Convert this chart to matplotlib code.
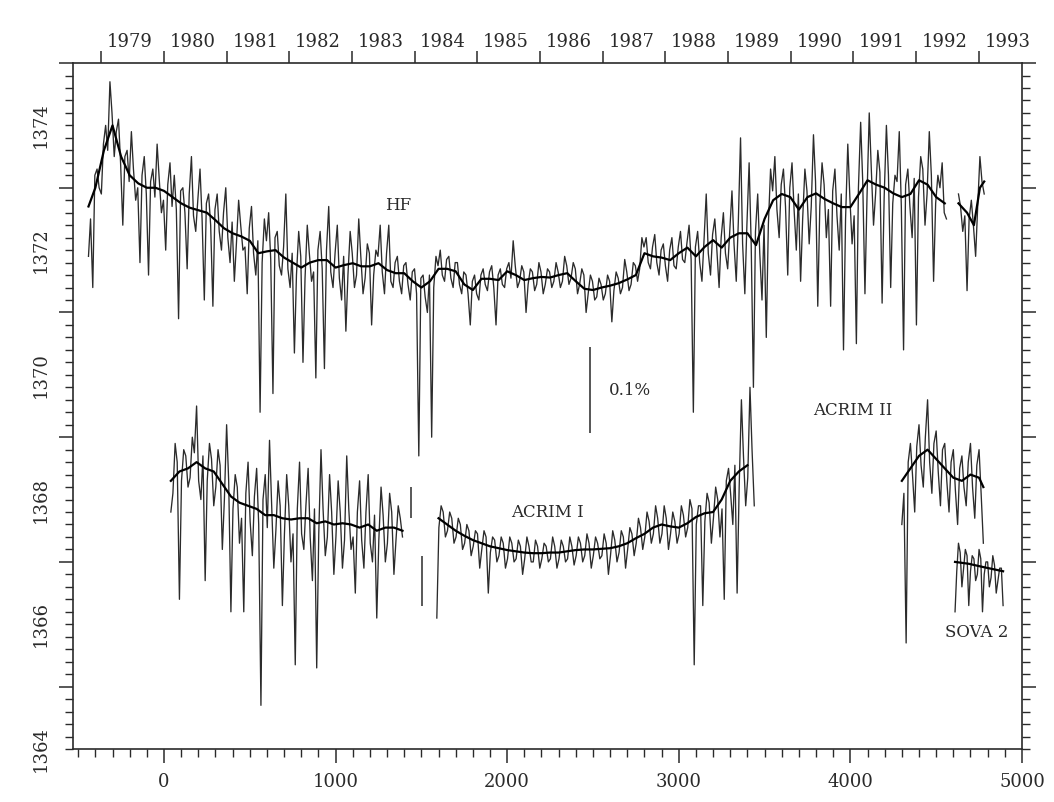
import numpy as np
import matplotlib
matplotlib.use("Agg")
import matplotlib.pyplot as plt
from matplotlib.ticker import MultipleLocator, FixedLocator

plt.rcParams["font.family"] = ["DejaVu Serif"]

INK = "#2a2a2a"


def days(start, step, n):
    # sampling grid of the typed series (day 0 = 1 Jan 1980)
    return start + step * np.arange(n)


def merged(d1, v1, d2, v2):
    d = np.r_[d1, d2]
    v = np.r_[v1, v2]
    order = np.argsort(d, kind="stable")
    return d[order], v[order]


# --- Nimbus-7 HF: spiky samples every 25 days from day -440
hf_vals = [
    1371.9, 1371.4, 1373.3, 1372.9, 1374.0, 1374.7, 1373.5, 1374.1, 1372.4, 1373.6,
    1373.9, 1372.8, 1371.8, 1373.5, 1371.6, 1373.3, 1373.7, 1372.6, 1372.0, 1373.4,
    1373.2, 1370.9, 1373.0, 1371.7, 1373.5, 1372.3, 1373.3, 1371.2, 1372.9, 1371.1,
    1372.9, 1372.0, 1373.0, 1371.8, 1371.5, 1372.8, 1372.0, 1371.3, 1372.7, 1371.6,
    1369.4, 1372.5, 1372.6, 1369.7, 1372.3, 1371.6, 1372.9, 1371.4, 1370.35, 1372.3,
    1370.2, 1372.4, 1371.5, 1369.95, 1372.3, 1370.1, 1372.7, 1371.4, 1372.4, 1371.2,
    1370.7, 1372.3, 1371.4, 1372.5, 1371.3, 1372.1, 1370.8, 1372.0, 1372.4, 1371.3,
    1372.4, 1371.4, 1371.9, 1371.3, 1371.8, 1371.2, 1371.7, 1368.7, 1371.6, 1371.0,
    1369.0, 1371.9, 1372.0, 1371.5, 1371.9, 1371.4, 1371.8, 1371.3, 1371.6, 1370.8,
    1371.6, 1371.2, 1371.7, 1371.35, 1371.75, 1370.8, 1371.7, 1371.4, 1371.8, 1372.15,
    1371.4, 1371.75, 1371.0, 1371.7, 1371.35, 1371.8, 1371.3, 1371.7, 1371.4, 1371.8,
    1371.4, 1371.9, 1371.45, 1371.8, 1371.3, 1371.7, 1371.0, 1371.6, 1371.2, 1371.55,
    1371.2, 1371.6, 1370.85, 1371.65, 1371.3, 1371.85, 1371.35, 1371.8, 1371.5, 1372.2,
    1372.2, 1371.7, 1372.25, 1371.6, 1372.1, 1371.5, 1372.2, 1371.7, 1372.3, 1371.8,
    1372.4, 1369.4, 1372.3, 1371.5, 1372.9, 1371.6, 1372.5, 1371.4, 1372.6, 1371.7,
    1372.95, 1371.5, 1373.8, 1371.3, 1373.4, 1369.8, 1372.9, 1371.2, 1370.6, 1373.3,
    1373.5, 1372.2, 1373.3, 1371.6, 1373.4, 1372.0, 1371.5, 1373.3, 1372.1, 1373.85,
    1371.1, 1373.4, 1372.2, 1371.1, 1373.3, 1372.0, 1370.4, 1373.7, 1372.1, 1370.5,
    1374.05, 1371.3, 1374.2, 1372.4, 1373.6, 1371.15, 1374.0, 1371.4, 1373.2, 1373.9,
    1370.4, 1373.3, 1372.2, 1370.8, 1373.5, 1372.4, 1373.9, 1371.5, 1373.2, 1373.4,
    1372.5,
]
# quieter HF days in between, every 25 days from day -428
hf_fill_vals = [
    1372.5, 1373.2, 1373.0, 1373.7, 1373.6, 1374.2, 1373.9, 1373.4, 1373.5, 1373.1,
    1373.3, 1373.0, 1373.2, 1372.9, 1373.1, 1372.85, 1373.15, 1372.8, 1373.05, 1372.7,
    1372.65, 1372.95, 1372.6, 1372.9, 1372.55, 1372.8, 1372.5, 1372.75, 1372.4, 1372.65,
    1372.3, 1372.6, 1372.2, 1372.45, 1372.1, 1372.4, 1372.05, 1372.35, 1371.95, 1372.15,
    1371.8, 1372.15, 1371.85, 1372.2, 1371.75, 1372.05, 1371.7, 1371.95, 1371.6, 1371.9,
    1371.55, 1371.95, 1371.65, 1372.0, 1371.7, 1372.0, 1371.65, 1371.95, 1371.55, 1371.9,
    1371.6, 1371.95, 1371.6, 1371.9, 1371.55, 1371.95, 1371.6, 1371.9, 1371.65, 1371.95,
    1371.5, 1371.8, 1371.5, 1371.75, 1371.45, 1371.65, 1371.3, 1371.55, 1371.25, 1371.6,
    1371.4, 1371.75, 1371.6, 1371.85, 1371.55, 1371.8, 1371.45, 1371.65, 1371.3, 1371.5,
    1371.3, 1371.6, 1371.45, 1371.65, 1371.4, 1371.6, 1371.45, 1371.7, 1371.55, 1371.75,
    1371.5, 1371.65, 1371.45, 1371.65, 1371.45, 1371.65, 1371.45, 1371.65, 1371.5, 1371.65,
    1371.5, 1371.75, 1371.55, 1371.7, 1371.45, 1371.6, 1371.3, 1371.5, 1371.25, 1371.45,
    1371.3, 1371.5, 1371.35, 1371.55, 1371.4, 1371.65, 1371.45, 1371.75, 1371.7, 1372.05,
    1371.8, 1372.05, 1371.8, 1372.0, 1371.75, 1372.0, 1371.75, 1372.05, 1371.85, 1372.1,
    1371.85, 1372.05, 1371.8, 1372.15, 1371.95, 1372.25, 1372.0, 1372.2, 1371.95, 1372.3,
    1372.1, 1372.45, 1372.1, 1372.4, 1372.1, 1372.3, 1371.95, 1372.4, 1372.4, 1372.95,
    1372.65, 1373.05, 1372.7, 1373.0, 1372.65, 1372.9, 1372.5, 1372.95, 1372.7, 1373.1,
    1372.7, 1373.05, 1372.65, 1372.95, 1372.55, 1372.9, 1372.5, 1372.85, 1372.55, 1373.0,
    1373.1, 1372.85, 1373.3, 1372.9, 1373.25, 1372.85, 1373.2, 1372.75, 1373.1, 1372.7,
    1373.05, 1372.7, 1373.15, 1372.85, 1373.3, 1372.9, 1373.2, 1372.75, 1373.0, 1372.6,
]
hf2_vals = [1372.9, 1372.3, 1371.35, 1372.8, 1371.9, 1373.5, 1372.9]   # from day 4630
hf2_fill_vals = [1372.7, 1372.55, 1372.5, 1372.4, 1372.7, 1373.1]      # from day 4642

# HF running mean, -440 then every 50 days from -400
hf_mean_vals = [
    1372.7, 1373.0, 1373.6, 1374.0, 1373.5, 1373.2, 1373.07, 1373.0, 1373.0, 1372.95,
    1372.85, 1372.75, 1372.68, 1372.64, 1372.6, 1372.48, 1372.35, 1372.27, 1372.22, 1372.15,
    1371.95, 1371.98, 1372.0, 1371.88, 1371.8, 1371.72, 1371.8, 1371.84, 1371.84, 1371.72,
    1371.76, 1371.79, 1371.74, 1371.74, 1371.79, 1371.68, 1371.63, 1371.63, 1371.5, 1371.4,
    1371.5, 1371.7, 1371.7, 1371.66, 1371.45, 1371.36, 1371.54, 1371.54, 1371.52, 1371.66,
    1371.6, 1371.52, 1371.55, 1371.57, 1371.56, 1371.6, 1371.63, 1371.5, 1371.38, 1371.36,
    1371.4, 1371.43, 1371.47, 1371.53, 1371.6, 1371.95, 1371.9, 1371.88, 1371.84, 1371.95,
    1372.04, 1371.9, 1372.05, 1372.16, 1372.04, 1372.2, 1372.27, 1372.27, 1372.08, 1372.5,
    1372.8, 1372.9, 1372.85, 1372.65, 1372.85, 1372.91, 1372.82, 1372.75, 1372.69, 1372.69,
    1372.9, 1373.12, 1373.05, 1373.0, 1372.91, 1372.85, 1372.9, 1373.12, 1373.05, 1372.85,
    1372.75,
]
hf2_mean_days = [4630, 4680, 4720, 4755, 4780]
hf2_mean_vals = [1372.75, 1372.6, 1372.4, 1373.0, 1373.1]

# --- ACRIM I, first part every 25 days from day 40
acrim1a_vals = [
    1367.8, 1368.9, 1366.4, 1368.8, 1368.2, 1369.0, 1369.5, 1368.0, 1366.7, 1368.9,
    1367.9, 1368.8, 1367.2, 1369.2, 1366.2, 1368.4, 1367.3, 1366.2, 1368.6, 1367.1,
    1368.5, 1364.7, 1368.4, 1368.95, 1366.9, 1368.3, 1366.3, 1368.4, 1367.0, 1365.35,
    1368.6, 1367.2, 1368.5, 1366.7, 1365.3, 1368.8, 1367.1, 1368.4, 1366.8, 1368.3,
    1366.9, 1368.7, 1367.2, 1366.5, 1368.3, 1366.9, 1368.4, 1367.0, 1366.1, 1368.2,
    1367.0, 1368.1, 1366.8, 1367.9, 1367.4,
]
acrim1a_fill_vals = [  # every 25 days from day 52
    1368.1, 1368.6, 1368.3, 1368.7, 1368.35, 1368.75, 1368.3, 1368.7, 1368.3, 1368.65,
    1368.2, 1368.55, 1368.0, 1368.3, 1367.85, 1368.2, 1367.7, 1368.1, 1367.65, 1368.05,
    1367.6, 1368.0, 1367.55, 1367.95, 1367.5, 1367.9, 1367.45, 1367.9, 1367.45, 1367.85,
    1367.45, 1367.9, 1367.4, 1367.85, 1367.45, 1367.85, 1367.4, 1367.8, 1367.4, 1367.8,
    1367.35, 1367.85, 1367.4, 1367.8, 1367.35, 1367.8, 1367.3, 1367.75, 1367.35, 1367.75,
    1367.3, 1367.8, 1367.35, 1367.7,
]
# isolated ACRIM I days in the 1984 gap
acrim_gap_days = [1440, 1503]
acrim_gap_low = [1367.7, 1366.3]
acrim_gap_high = [1368.2, 1367.1]
# second part every 25 days from day 1590
acrim1b_vals = [
    1366.1, 1367.9, 1367.4, 1367.8, 1367.3, 1367.7, 1367.2, 1367.6, 1367.1, 1367.5,
    1366.9, 1367.5, 1366.5, 1367.4, 1367.0, 1367.4, 1366.9, 1367.4, 1367.0, 1367.35,
    1366.8, 1367.4, 1367.0, 1367.35, 1366.9, 1367.3, 1367.0, 1367.4, 1366.9, 1367.35,
    1367.0, 1367.4, 1366.95, 1367.4, 1367.0, 1367.45, 1366.9, 1367.4, 1367.05, 1367.45,
    1366.8, 1367.5, 1367.0, 1367.5, 1366.9, 1367.55, 1367.1, 1367.7, 1367.2, 1367.8,
    1367.3, 1367.9, 1367.3, 1367.9, 1367.2, 1367.8, 1367.3, 1367.9, 1367.4, 1368.0,
    1365.35, 1367.9, 1366.3, 1368.1, 1367.3, 1368.2, 1367.4, 1366.4, 1368.5, 1367.6,
    1366.5, 1369.6, 1367.9, 1369.8, 1367.9,
]
acrim1b_fill_vals = [  # every 25 days from day 1602
    1367.55, 1367.8, 1367.5, 1367.7, 1367.4, 1367.6, 1367.3, 1367.5, 1367.25, 1367.45,
    1367.2, 1367.4, 1367.15, 1367.35, 1367.1, 1367.3, 1367.05, 1367.3, 1367.05, 1367.25,
    1367.05, 1367.25, 1367.0, 1367.25, 1367.05, 1367.25, 1367.05, 1367.25, 1367.05, 1367.25,
    1367.05, 1367.25, 1367.1, 1367.3, 1367.1, 1367.3, 1367.1, 1367.3, 1367.1, 1367.3,
    1367.1, 1367.35, 1367.15, 1367.4, 1367.2, 1367.45, 1367.3, 1367.55, 1367.4, 1367.65,
    1367.45, 1367.7, 1367.45, 1367.7, 1367.45, 1367.65, 1367.45, 1367.75, 1367.55, 1367.85,
    1367.6, 1367.9, 1367.65, 1367.95, 1367.7, 1368.0, 1367.85, 1368.3, 1368.1, 1368.55,
    1368.2, 1368.7, 1368.35, 1368.8,
]
acrim1a_mean_vals = [  # every 50 days from day 40
    1368.3, 1368.45, 1368.5, 1368.6, 1368.5, 1368.45, 1368.25, 1368.05, 1367.95, 1367.9,
    1367.85, 1367.75, 1367.75, 1367.7, 1367.68, 1367.7, 1367.7, 1367.62, 1367.65, 1367.6,
    1367.62, 1367.6, 1367.55, 1367.6, 1367.5, 1367.55, 1367.55, 1367.5,
]
acrim1b_mean_vals = [  # every 50 days from day 1600
    1367.7, 1367.6, 1367.5, 1367.42, 1367.35, 1367.3, 1367.25, 1367.22, 1367.19, 1367.17,
    1367.15, 1367.14, 1367.14, 1367.15, 1367.15, 1367.17, 1367.19, 1367.2, 1367.2, 1367.21,
    1367.22, 1367.25, 1367.3, 1367.38, 1367.45, 1367.55, 1367.6, 1367.57, 1367.55, 1367.62,
    1367.72, 1367.78, 1367.8, 1368.0, 1368.3, 1368.45, 1368.55,
]

# --- ACRIM II, every 25 days from day 4300
acrim2_vals = [
    1367.6, 1365.7, 1368.9, 1367.8, 1369.2, 1368.2, 1369.6, 1368.1, 1369.1, 1367.9,
    1368.9, 1367.8, 1368.8, 1367.6, 1368.7, 1367.9, 1368.9, 1367.7, 1368.8, 1367.3,
]
acrim2_fill_vals = [  # every 25 days from day 4312
    1368.1, 1368.6, 1368.4, 1368.85, 1368.55, 1369.0, 1368.6, 1368.9, 1368.45, 1368.8,
    1368.3, 1368.6, 1368.15, 1368.5, 1368.2, 1368.6, 1368.2, 1368.55, 1368.1,
]
acrim2_mean_days = [4300, 4350, 4400, 4450, 4500, 4550, 4600, 4650, 4700, 4750, 4775]
acrim2_mean_vals = [1368.3, 1368.5, 1368.7, 1368.8, 1368.65, 1368.5, 1368.35, 1368.3,
                    1368.4, 1368.35, 1368.2]

# --- SOVA 2, every 20 days from day 4610
sova_vals = [1366.2, 1367.3, 1366.6, 1367.2, 1366.3, 1367.1, 1366.7, 1367.2, 1366.2,
             1367.0, 1366.6, 1367.1, 1366.5, 1366.9, 1366.3]
sova_fill_vals = [1366.85, 1367.15, 1366.9, 1367.1, 1366.85, 1367.05, 1366.8, 1367.05,
                  1366.8, 1367.0, 1366.75, 1366.95, 1366.7, 1366.9]   # from day 4620
sova_mean_days = [4610, 4690, 4770, 4890]
sova_mean_vals = [1367.0, 1366.97, 1366.92, 1366.85]

# 0.1 % scale bar
scale_day = 2483
scale_low, scale_high = 1369.07, 1370.44

years = list(range(1979, 1994))
year_days = [-365, 0, 366, 731, 1096, 1461, 1827, 2192, 2557, 2922, 3288, 3653,
             4018, 4383, 4749]

labels = {"HF": (1364, 1372.72), "ACRIM I": (2232, 1367.8),
          "ACRIM II": (4015, 1369.43), "SOVA 2": (4738, 1365.87)}


fig = plt.figure(figsize=(10.54, 8.02), dpi=100)
ax = fig.add_axes([0.0693, 0.0661, 0.9003, 0.8553])

raw = dict(color="#2b2b2b", lw=0.95)
mean = dict(color="black", lw=1.6)

ax.plot(*merged(days(-440, 25, len(hf_vals)), hf_vals,
                days(-428, 25, len(hf_fill_vals)), hf_fill_vals), **raw)
ax.plot(*merged(days(4630, 25, len(hf2_vals)), hf2_vals,
                days(4642, 25, len(hf2_fill_vals)), hf2_fill_vals), **raw)
ax.plot(np.r_[-440, days(-400, 50, len(hf_mean_vals) - 1)], hf_mean_vals, **mean)
ax.plot(hf2_mean_days, hf2_mean_vals, **mean)

ax.plot(*merged(days(40, 25, len(acrim1a_vals)), acrim1a_vals,
                days(52, 25, len(acrim1a_fill_vals)), acrim1a_fill_vals), **raw)
ax.vlines(acrim_gap_days, acrim_gap_low, acrim_gap_high, colors=raw["color"], lw=1.1)
ax.plot(*merged(days(1590, 25, len(acrim1b_vals)), acrim1b_vals,
                days(1602, 25, len(acrim1b_fill_vals)), acrim1b_fill_vals), **raw)
ax.plot(days(40, 50, len(acrim1a_mean_vals)), acrim1a_mean_vals, **mean)
ax.plot(days(1600, 50, len(acrim1b_mean_vals)), acrim1b_mean_vals, **mean)

ax.plot(*merged(days(4300, 25, len(acrim2_vals)), acrim2_vals,
                days(4312, 25, len(acrim2_fill_vals)), acrim2_fill_vals), **raw)
ax.plot(acrim2_mean_days, acrim2_mean_vals, **mean)

ax.plot(*merged(days(4610, 20, len(sova_vals)), sova_vals,
                days(4620, 20, len(sova_fill_vals)), sova_fill_vals), **raw)
ax.plot(sova_mean_days, sova_mean_vals, **mean)

ax.vlines(scale_day, scale_low, scale_high, colors="#555555", lw=1.4)
ax.text(scale_day + 110, (scale_low + scale_high) / 2, "0.1%", fontsize=12,
        va="center", ha="left", color=INK)

for name, (x, y) in labels.items():
    ax.text(x, y, name, fontsize=12, ha="center", va="center", color=INK)

ax.set_xlim(-530, 5000)
ax.set_ylim(1364, 1375)

for sp in ax.spines.values():
    sp.set_color(INK)
    sp.set_linewidth(1.2)

ax.xaxis.set_major_locator(MultipleLocator(1000))
ax.xaxis.set_minor_locator(MultipleLocator(100))
ax.tick_params(axis="x", which="both", direction="out", top=False, colors=INK,
               labelsize=13, pad=7)
ax.tick_params(axis="x", which="major", length=10, width=1.1)
ax.tick_params(axis="x", which="minor", length=6, width=1.0)

ax.yaxis.set_major_locator(FixedLocator(range(1365, 1376, 2)))
ax.yaxis.set_minor_locator(MultipleLocator(0.2))
ax.tick_params(axis="y", which="both", direction="out", left=True, right=True,
               labelleft=False, colors=INK)
ax.tick_params(axis="y", which="major", length=10, width=1.1)
ax.tick_params(axis="y", which="minor", length=6, width=1.0)

# even-valued labels sit between the long ticks
ylab = ax.secondary_yaxis("left")
ylab.set_yticks(range(1364, 1375, 2))
ylab.tick_params(length=0, pad=17, labelsize=13, labelrotation=90, colors=INK)
for t in ylab.get_yticklabels():
    t.set_va("center")
ylab.spines["left"].set_visible(False)

# calendar years along the top
top = ax.secondary_xaxis("top")
top.set_xticks(year_days, labels=[""] * len(year_days))
top.tick_params(direction="out", length=9, width=1.1, colors=INK)
top.spines["top"].set_visible(False)
for y, d in zip(years, year_days):
    ax.annotate(str(y), xy=(d, 1), xycoords=("data", "axes fraction"),
                xytext=(4, 9), textcoords="offset points", ha="left", va="bottom",
                fontsize=13, color=INK)

fig.savefig("out.png", dpi=100, facecolor="white")
